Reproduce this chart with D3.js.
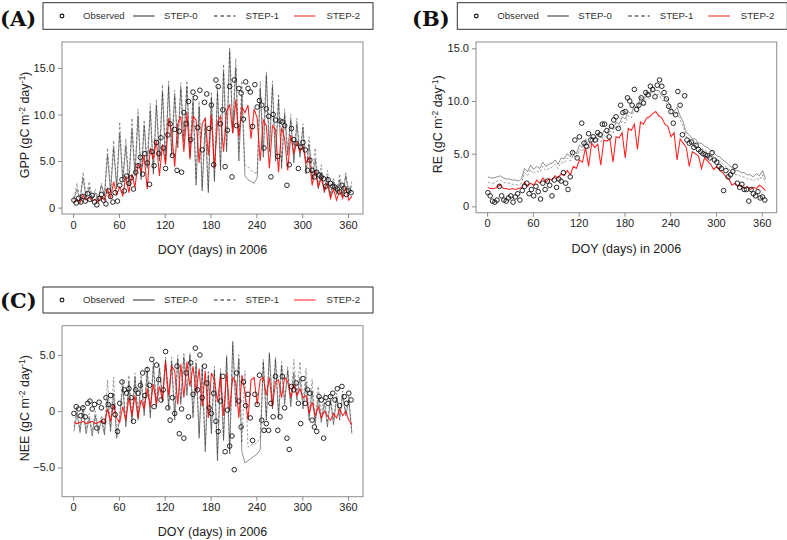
<!DOCTYPE html>
<html><head><meta charset="utf-8">
<script src="https://cdn.jsdelivr.net/npm/d3@7/dist/d3.min.js"></script>
<style>body{margin:0;background:#fff}svg{display:block}</style>
</head><body>
<svg id="chart" width="787" height="540"></svg>
<script>
// ---------- DATA ----------
const doyModel = d3.range(1, 366, 4);   // model output sampled every 4 days (92)
const doyObs = d3.range(1, 365, 3);     // observations every 3 days (122)
const xTicks = [0, 60, 120, 180, 240, 300, 360];
const seriesNames = ["Observed", "STEP-0", "STEP-1", "STEP-2"];

// GPP
const gppObs = [0.8,0.5,1.0,0.6,1.2,0.7,1.5,0.9,1.3,0.6, 0.3,1.0,1.4,0.8,0.4,1.8,1.2,0.6,1.6,0.7,
 2.4,3.0,1.8,3.4,2.6,3.2,2.0,3.8,4.5,5.4, 3.6,5.8,4.8,2.5,6.0,4.5,7.0,5.8,7.5,6.4,
 4.2,7.8,9.0,5.6,8.4,4.0,8.2,3.8,10.2,9.0, 11.4,7.3,12.4,11.8,8.6,12.6,6.2,11.3,12.2,8.5,
 11.0,4.6,13.7,13.0,9.0,10.5,4.4,8.3,13.0,3.3, 13.7,8.8,12.8,12.3,9.5,13.5,12.8,12.4,8.7,13.2,
 10.8,11.5,11.0,6.4,10.6,9.8,3.3,10.0,9.4,5.5, 9.3,9.2,8.8,2.4,4.6,8.5,7.3,6.9,4.2,6.5,
 7.0,6.2,4.0,5.1,4.0,3.3,3.8,3.5,3.3,3.1, 2.3,3.0,2.6,2.3,2.2,2.0,1.7,2.4,2.1,1.4, 1.8,1.6];
const gppStep0 = [0.8,2.0,0.7,3.2,1.0,2.2,0.9,1.6,0.8,2.4, 1.2,5.6,1.6,6.4,2.0,8.0,2.8,6.6,2.4,8.4,
 3.4,9.8,3.0,8.8,4.2,10.4,3.6,11.0,5.0,12.4, 4.8,13.0,5.6,12.0,6.4,12.8,7.0,13.0,5.4,11.4,
 2.4,10.8,1.8,9.0,1.6,11.8,2.8,12.4,4.0,14.6, 6.0,16.8,8.0,15.0,5.0,12.0,3.4,3.0,2.8,2.6,
 3.2,12.8,5.4,14.2,6.0,13.0,5.0,11.6,4.2,10.0, 5.6,9.4,4.8,9.0,5.4,8.6,3.6,6.8,3.0,5.2,
 2.0,3.8,1.6,3.4,1.2,2.8,1.4,3.0,1.2,3.4, 1.6,2.4];
const gppStep1 = [1.0,2.6,0.9,3.8,1.2,2.8,1.0,2.0,0.9,2.6, 1.4,6.4,2.0,7.2,2.4,9.2,3.2,7.4,2.8,9.6,
 3.8,10.6,3.4,9.4,4.6,11.2,4.0,11.6,5.4,13.2, 5.2,13.6,6.0,12.6,6.8,13.4,7.6,13.6,6.0,12.0,
 3.0,11.4,2.2,9.6,2.0,12.4,3.2,13.0,4.6,15.4, 6.6,17.2,8.6,16.0,6.0,13.6,4.6,4.4,4.0,3.8,
 3.6,13.6,6.0,14.6,6.6,13.6,5.6,12.2,4.8,10.6, 6.0,10.0,5.2,9.6,5.8,9.0,4.2,7.6,3.4,6.4,
 2.4,4.6,1.8,4.0,1.4,3.2,1.6,3.6,1.4,3.8, 1.8,2.8];
const gppStep2 = [0.6,0.9,0.5,1.3,0.8,1.1,0.7,0.9,0.6,1.2, 0.8,2.0,1.0,2.8,1.4,2.2,1.2,3.4,1.6,3.6,
 2.2,4.8,3.8,5.6,2.0,6.4,5.2,7.2,3.4,6.8, 4.6,9.6,8.2,4.4,9.0,9.8,6.0,10.2,5.2,9.8,
 9.4,4.8,9.0,9.6,5.6,10.0,4.2,9.2,9.8,6.0, 10.4,11.0,8.0,11.6,7.6,10.8,10.2,11.0,7.4,10.6,
 9.6,5.0,9.4,8.8,4.2,8.8,8.4,3.8,8.6,7.4, 4.0,7.8,5.8,7.0,6.0,6.6,4.8,5.4,2.4,4.0,
 2.2,3.2,1.8,2.6,1.0,2.0,0.8,1.8,1.0,2.2, 0.8,1.2];

// RE
const reObs = [1.3,1.0,0.5,0.4,0.6,1.9,1.0,0.6,0.5,0.8, 1.0,0.4,0.9,1.2,0.6,1.5,1.9,2.2,1.2,1.6,
 1.0,1.9,1.4,0.7,2.2,1.6,2.4,2.0,1.0,2.5, 1.8,2.6,2.4,3.2,2.2,1.6,2.8,5.1,6.3,4.6,
 6.6,7.9,6.0,5.7,6.9,6.3,6.6,6.3,7.0,6.8, 7.8,7.8,7.2,6.6,7.6,8.2,8.5,7.4,9.6,8.9,
 9.0,10.3,10.0,9.6,11.1,9.2,9.6,10.3,9.8,10.8, 10.6,11.4,11.1,10.4,11.5,12.0,11.4,10.8,10.2,9.5,
 9.0,7.9,8.7,10.9,9.6,6.8,10.5,6.3,6.0,6.1, 5.6,5.8,5.4,5.2,5.0,4.9,4.8,4.6,5.1,4.4,
 4.2,3.8,3.6,1.5,3.4,2.8,3.0,3.3,3.8,2.2, 1.8,2.1,1.6,1.6,0.5,1.6,1.2,1.0,1.4,0.8, 0.9,0.6];
const reStep0 = [2.8,2.7,2.7,2.8,2.9,2.7,2.6,2.6,2.5,2.5, 2.4,2.6,3.6,3.3,3.9,3.5,3.8,3.6,4.2,3.8,
 4.0,4.1,4.4,4.0,4.6,4.5,5.0,4.7,5.3,5.0, 5.8,5.6,6.4,5.8,6.6,6.4,6.9,6.5,7.2,6.9,
 7.6,7.3,8.0,7.8,8.5,8.3,9.0,8.8,9.6,9.3, 10.4,10.0,10.9,10.6,11.4,11.0,11.0,10.5,10.4,10.0,
 9.4,9.0,9.4,8.6,8.0,7.0,6.8,6.4,6.4,6.0, 6.0,5.7,5.6,5.3,5.1,4.8,4.7,4.4,4.2,3.9,
 3.7,3.4,3.4,3.2,3.2,3.0,3.0,2.8,3.1,2.9, 3.4,2.6];
const reStep1 = [2.3,2.2,2.2,2.4,2.5,2.3,2.2,2.2,2.1,2.1, 2.0,2.2,3.2,2.9,3.5,3.1,3.4,3.2,3.8,3.4,
 3.6,3.7,4.0,3.6,4.2,4.1,4.6,4.3,4.9,4.6, 5.4,5.2,6.0,5.4,6.2,6.0,6.5,6.1,6.8,6.5,
 7.2,6.9,7.6,7.4,8.1,7.9,8.6,8.4,9.2,8.9, 10.0,9.6,10.5,10.2,11.0,10.6,10.6,10.1,10.0,9.6,
 9.0,8.6,9.0,8.2,7.6,6.6,6.4,6.0,6.0,5.6, 5.6,5.3,5.2,4.9,4.7,4.4,4.3,4.0,3.8,3.5,
 3.3,3.0,3.0,2.8,2.8,2.6,2.6,2.4,2.7,2.5, 3.0,2.2];
const reStep2 = [1.8,1.7,1.7,1.8,2.1,1.7,1.7,1.6,1.7,1.6, 1.7,1.8,2.3,1.9,2.2,2.0,2.5,2.2,2.7,2.3,
 2.6,2.5,2.9,2.7,3.1,2.9,3.4,3.0,3.8,3.6, 4.4,4.2,5.6,3.8,6.0,5.6,5.9,3.9,6.3,6.2,
 6.4,4.2,6.6,6.5,7.0,4.6,7.4,7.2,7.8,5.4, 8.0,7.8,8.4,8.5,8.8,9.0,8.6,8.4,7.8,7.6,
 6.6,7.0,4.4,6.4,6.0,5.6,3.8,5.2,5.0,4.8, 3.6,4.6,4.3,4.0,3.5,3.8,3.4,3.2,2.8,2.6,
 2.0,2.2,1.9,2.0,1.7,1.9,1.6,1.8,1.7,2.0, 1.8,1.5];

// NEE
const neeObs = [-0.2,0.4,0.2,-0.4,0.3,-0.5,0.7,0.9,0.2,0.6, -1.5,0.8,0.3,-0.9,1.2,0.6,1.4,0.4,-0.3,-1.8,
 0.7,2.6,1.9,1.6,2.0,1.2,-0.9,1.9,1.6,2.3, 3.4,1.4,3.7,2.3,4.6,0.4,4.1,2.8,1.0,1.9,
 5.3,0.3,-0.8,1.2,-0.2,4.0,-2.0,0.2,-2.4,3.4, -0.5,4.3,1.5,5.6,1.9,5.0,1.2,4.0,2.5,0.3,
 -0.2,1.6,-0.9,-1.8,0.9,3.1,-3.6,0.1,-3.1,-2.2, -5.2,3.4,0.9,-1.4,2.6,0.5,1.5,-0.6,-2.6,1.5,
 0.6,3.2,-0.8,-1.7,-1.1,-1.7,0.7,-0.5,3.1,-1.7, -0.5,3.1,0.3,-2.4,-3.4,2.2,1.9,2.5,0.7,-1.1,
 2.9,0.7,1.9,1.6,-0.8,-1.4,-1.8,1.3,1.0,-2.4, 1.2,0.7,1.3,1.6,1.0,2.0,0.5,2.2,1.3,0.7, 1.6,1.0];
const neeStep0 = [-1.8,-0.2,-1.9,0.2,-2.0,-0.6,-2.2,-0.4,-2.0,-0.8, -2.1,1.0,-1.8,1.6,-2.4,-0.6,2.2,-1.4,2.6,-1.0,
 3.0,-0.8,2.8,-0.4,3.6,-0.6,4.0,0.4,3.8,0.8, 4.6,0.2,4.4,-0.8,4.6,0.6,4.8,1.4,5.0,-0.6,
 4.2,-2.4,3.8,-3.6,3.2,-2.0,3.6,-4.4,3.4,-2.6, 4.8,-3.8,6.2,0.4,4.6,-3.6,-4.6,-4.4,-4.2,-4.0,
 -3.8,-3.4,4.4,-0.8,5.2,0.2,4.6,-0.6,4.0,0.6, 3.6,0.4,3.4,1.0,3.0,0.2,2.6,-0.8,1.8,-1.2,
 1.2,-1.0,0.8,-1.4,1.0,-1.2,1.2,-0.8,1.4,-0.4, 1.0,-2.0];
const neeStep1 = [-1.4,0.2,-1.6,0.6,-1.6,-0.2,-1.8,0.0,-1.6,-0.4, -1.8,2.8,-1.4,3.0,-2.0,-0.2,2.8,-1.0,3.2,-0.6,
 3.4,-0.4,3.2,0.0,4.0,-0.2,4.4,0.8,4.2,1.2, 4.8,0.6,4.8,-0.4,5.0,1.0,5.2,1.8,5.2,-0.2,
 4.6,-2.0,4.2,-3.0,3.6,-1.6,4.0,-3.8,3.8,-2.2, 5.0,-3.4,5.8,0.8,5.0,-2.8,3.6,-3.2,-3.0,-3.0,
 -2.8,-2.4,4.6,-0.4,5.0,0.6,4.8,-0.2,4.4,1.0, 4.0,0.8,4.6,1.4,4.4,0.6,3.8,-0.4,2.8,-0.8,
 2.2,-0.6,1.6,-1.0,1.4,-0.8,1.6,-0.4,1.8,0.0, 1.4,-1.8];
const neeStep2 = [-1.0,-1.1,-1.0,-0.9,-1.1,-1.0,-0.9,-1.1,-1.0,-0.8, -1.1,0.2,-0.9,0.6,-0.6,-1.0,0.4,-0.8,1.2,-0.4,
 1.4,-0.6,1.0,0.2,2.0,0.4,2.4,0.6,2.2,1.0, 4.4,1.4,4.0,3.6,0.6,4.2,1.2,4.4,2.2,4.0,
 1.6,3.8,0.4,3.6,-0.6,3.4,2.8,0.8,3.2,-0.4, 3.4,0.2,3.0,2.6,-0.6,3.2,1.6,-0.8,2.8,3.0,
 0.6,2.8,3.0,1.4,3.0,0.4,2.6,2.8,1.2,3.0, 2.6,1.2,2.4,1.4,2.0,1.2,1.4,-0.2,0.8,-0.4,
 0.4,-0.6,0.0,-0.4,-0.8,-0.2,-0.6,0.2,-0.4,0.0, -0.8,-1.2];

const gppTicks = [0, 5, 10, 15];
const reTicks = [0, 5, 10, 15];
const neeTicks = [-5, 0, 5];

// ---------- DRAWING ----------
const svg = d3.select("#chart");
svg.append("rect").attr("width", 787).attr("height", 540).attr("fill", "#fff");
const SANS = "'Liberation Sans', Arial, Helvetica, sans-serif";
const BOXC = "#8c8c8c";

function legend(x0, y0, y1) {
  const g = svg.append("g");
  g.append("rect").attr("x", x0).attr("y", y0).attr("width", 330).attr("height", y1 - y0)
    .attr("fill", "#fff").attr("stroke", "#333").attr("stroke-width", 1);
  const cy = (y0 + y1) / 2;
  g.append("circle").attr("cx", x0 + 19).attr("cy", cy).attr("r", 1.9)
    .attr("fill", "none").attr("stroke", "#111").attr("stroke-width", 1.1);
  const lines = [
    {x: 90, stroke: "#666", dash: null},
    {x: 171, stroke: "#666", dash: "3.5,3"},
    {x: 251, stroke: "rgba(255,0,0,0.65)", dash: null}
  ];
  lines.forEach(l => {
    g.append("line").attr("x1", x0 + l.x).attr("x2", x0 + l.x + 21.5).attr("y1", cy).attr("y2", cy)
      .attr("stroke", l.stroke).attr("stroke-width", 1.4).attr("stroke-dasharray", l.dash);
  });
  const tx = [40, 121, 202.5, 283.5];
  seriesNames.forEach((n, i) => {
    g.append("text").attr("x", x0 + tx[i]).attr("y", cy + 3.4).text(n)
      .attr("font-family", SANS).attr("font-size", 9.6).attr("fill", "#333");
  });
}

function panel(o) {
  const x = d3.scaleLinear().domain([-14.6, 379.6]).range([o.x0, o.x1]);
  const y = d3.scaleLinear().domain(o.yDomain).range([o.y1, o.y0]);
  const g = svg.append("g");

  svg.append("text").attr("x", o.tagX).attr("y", o.tagY).text(o.tag)
    .attr("font-family", "'DejaVu Serif', 'Liberation Serif', serif").attr("font-weight", "bold")
    .attr("font-size", 21).attr("fill", "#111");
  legend(o.legX, o.legY0, o.legY1);

  const clipId = "clip" + o.tag.replace(/\W/g, "");
  svg.append("clipPath").attr("id", clipId).append("rect")
    .attr("x", o.x0).attr("y", o.y0).attr("width", o.x1 - o.x0).attr("height", o.y1 - o.y0);
  const pg = g.append("g").attr("clip-path", `url(#${clipId})`);

  const line = d3.line().x((d, i) => x(doyModel[i])).y(d => y(d));
  pg.append("path").datum(o.s0).attr("d", line).attr("fill", "none")
    .attr("stroke", "rgba(0,0,0,0.55)").attr("stroke-width", 0.8);
  pg.append("path").datum(o.s1).attr("d", line).attr("fill", "none")
    .attr("stroke", "rgba(40,40,40,0.55)").attr("stroke-width", 0.8).attr("stroke-dasharray", "2.5,1.8");
  pg.append("path").datum(o.s2).attr("d", line).attr("fill", "none")
    .attr("stroke", "rgba(255,0,0,0.85)").attr("stroke-width", 1.1);
  pg.selectAll("circle.obs").data(o.obs).join("circle").attr("class", "obs")
    .attr("cx", (d, i) => x(doyObs[i])).attr("cy", d => y(d)).attr("r", 2.3)
    .attr("fill", "none").attr("stroke", "#111").attr("stroke-width", 0.9);

  g.append("rect").attr("x", o.x0).attr("y", o.y0).attr("width", o.x1 - o.x0).attr("height", o.y1 - o.y0)
    .attr("fill", "none").attr("stroke", BOXC).attr("stroke-width", 1);

  const xa = d3.axisBottom(x).tickValues(xTicks).tickSize(4).tickPadding(3).tickFormat(d3.format("d"));
  const gx = g.append("g").attr("transform", `translate(0,${o.y1})`).call(xa);
  gx.select(".domain").remove();
  gx.selectAll("line").attr("stroke", BOXC);
  gx.selectAll("text").attr("font-family", SANS).attr("font-size", 11).attr("fill", "#222");

  const ya = d3.axisLeft(y).tickValues(o.yTicks).tickSize(4).tickPadding(3)
    .tickFormat(d => d === 0 ? "0" : d3.format(".1f")(d));
  const gy = g.append("g").attr("transform", `translate(${o.x0},0)`).call(ya);
  gy.select(".domain").remove();
  gy.selectAll("line").attr("stroke", BOXC);
  gy.selectAll("text").attr("font-family", SANS).attr("font-size", 11).attr("fill", "#222");

  g.append("text").attr("x", (o.x0 + o.x1) / 2).attr("y", o.xLabY).attr("text-anchor", "middle")
    .attr("font-family", SANS).attr("font-size", 12.5).attr("fill", "#222").text("DOY (days) in 2006");

  const yl = g.append("text").attr("transform", `translate(${o.yLabX},${(o.y0 + o.y1) / 2 - 3}) rotate(-90)`)
    .attr("text-anchor", "middle").attr("font-family", SANS).attr("font-size", 12.5).attr("fill", "#222");
  yl.append("tspan").text(o.yName + " (gC m");
  yl.append("tspan").attr("dy", -4.5).attr("font-size", 8.5).text("-2");
  yl.append("tspan").attr("dy", 4.5).text(" day");
  yl.append("tspan").attr("dy", -4.5).attr("font-size", 8.5).text("-1");
  yl.append("tspan").attr("dy", 4.5).text(")");
}

panel({tag: "(A)", tagX: 0, tagY: 25.5, legX: 43, legY0: 2.7, legY1: 29.3,
  x0: 62, x1: 363, y0: 42, y1: 214, yDomain: [-0.684, 17.78], yTicks: gppTicks,
  xLabY: 253.5, yLabX: 29, yName: "GPP", obs: gppObs, s0: gppStep0, s1: gppStep1, s2: gppStep2});
panel({tag: "(B)", tagX: 412, tagY: 25.5, legX: 457.3, legY0: 2.7, legY1: 29.3,
  x0: 476, x1: 776.7, y0: 42, y1: 212.7, yDomain: [-0.6, 15.6], yTicks: reTicks,
  xLabY: 252.5, yLabX: 442, yName: "RE", obs: reObs, s0: reStep0, s1: reStep1, s2: reStep2});
panel({tag: "(C)", tagX: 0, tagY: 307.5, legX: 43, legY0: 287, legY1: 313,
  x0: 62, x1: 363, y0: 325.7, y1: 496.7, yDomain: [-7.6, 7.6], yTicks: neeTicks,
  xLabY: 535.5, yLabX: 29, yName: "NEE", obs: neeObs, s0: neeStep0, s1: neeStep1, s2: neeStep2});
</script>
</body></html>
